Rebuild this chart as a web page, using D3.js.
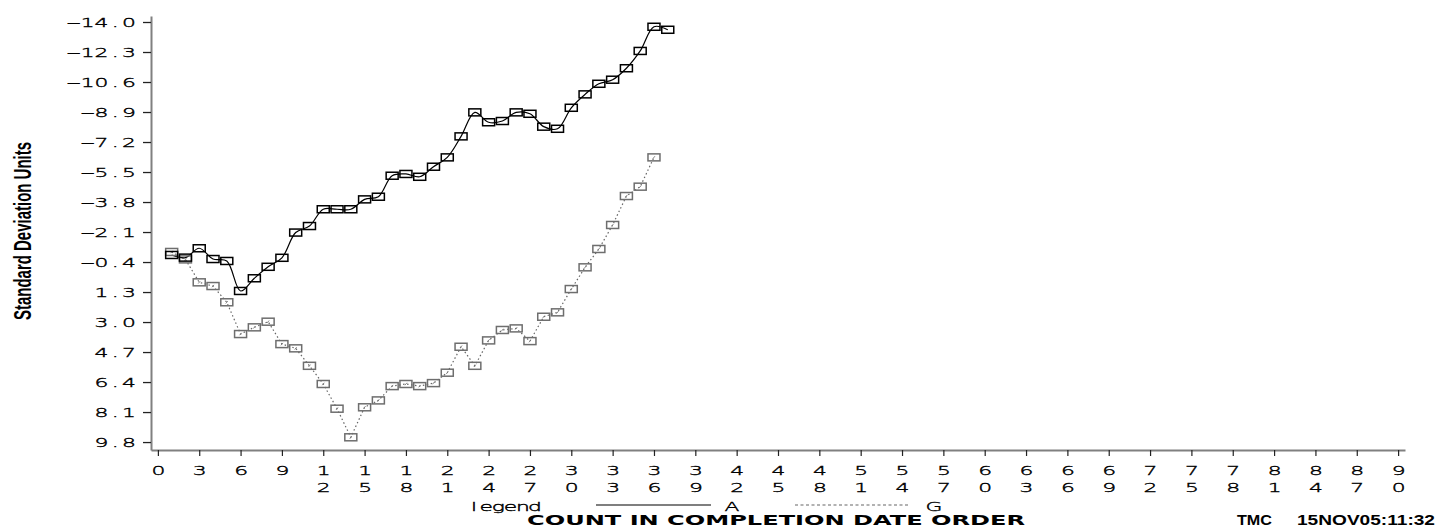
<!DOCTYPE html>
<html>
<head>
<meta charset="utf-8">
<script src="https://cdn.jsdelivr.net/npm/d3@7"></script>
<style>
body { margin: 0; background: #fff; }
svg { display: block; }
</style>
</head>
<body>
<script>
// count in completion date order
var counts = [1, 2, 3, 4, 5, 6, 7, 8, 9, 10, 11, 12, 13, 14, 15, 16, 17, 18, 19, 20,
  21, 22, 23, 24, 25, 26, 27, 28, 29, 30, 31, 32, 33, 34, 35, 36, 37];

// series A (solid line)
var seriesA = [-0.80, -0.65, -1.18, -0.57, -0.46, 1.24, 0.52, -0.13, -0.64, -2.07,
  -2.44, -3.39, -3.39, -3.39, -3.95, -4.10, -5.29, -5.39, -5.23, -5.80,
  -6.33, -7.52, -8.88, -8.32, -8.39, -8.88, -8.80, -8.07, -7.95, -9.14,
  -9.90, -10.50, -10.73, -11.38, -12.36, -13.73, -13.56];

// series G (dotted line)
var seriesG = [-0.97, -0.55, 0.75, 0.96, 1.88, 3.68, 3.30, 2.98, 4.25, 4.49,
  5.48, 6.51, 7.91, 9.53, 7.83, 7.44, 6.63, 6.51, 6.63, 6.46,
  5.87, 4.40, 5.48, 4.04, 3.45, 3.36, 4.08, 2.70, 2.45, 1.13,
  -0.10, -1.14, -2.50, -4.14, -4.67, -6.33];

var yTickValues = [-14.0, -12.3, -10.6, -8.9, -7.2, -5.5, -3.8, -2.1, -0.4, 1.3, 3.0, 4.7, 6.4, 8.1, 9.8];
var xTickValues = [0, 3, 6, 9, 12, 15, 18, 21, 24, 27, 30, 33, 36, 39, 42, 45, 48, 51, 54, 57,
  60, 63, 66, 69, 72, 75, 78, 81, 84, 87, 90];
var legendLabels = ['A', 'G'];

var w = 1438;
var h = 527;
var thinFont = '"DejaVu Sans", sans-serif';
var sx = 1.9;   // horizontal stretch of the thin axis font

var svg = d3.select('body')
  .append('svg')
  .attr('width', w)
  .attr('height', h);

// writes a string one character per fixed slot, like a plotter font
function slotText(t, str, firstCenter, slot, y){
  t.text(null)
    .attr('x', null)
    .attr('y', null)
    .attr('dy', null)
    .attr('text-anchor', 'middle')
    .attr('transform', 'scale(' + sx + ',1)')
    .attr('fill', '#000')
    .attr('stroke', '#000')
    .attr('stroke-width', 0.35)
    .style('font-family', thinFont)
    .style('font-weight', 200)
    .style('font-size', '11.5px');
  str.split('').forEach(function(c, k){
    t.append('tspan')
      .attr('x', (firstCenter + k * slot) / sx)
      .attr('y', y)
      .text(c);
  });
}

var xScale = d3.scaleLinear()
  .domain([-0.5, 90.5])
  .range([151, 1405]);

var yScale = d3.scaleLinear()
  .domain([-14.34, 10.25])
  .range([16, 450]);

// y axis, minus drawn as a long plotter dash
var yFormat = function(d){ return d3.format('.1f')(d).replace('\u2212', '\u2012'); };

var yAxis = d3.axisLeft(yScale)
  .tickValues(yTickValues)
  .tickSize(8)
  .tickSizeOuter(0)
  .tickFormat(yFormat);

var gy = svg.append('g')
  .attr('transform', 'translate(151,0)')
  .call(yAxis);

gy.select('.domain').attr('stroke', '#808080').attr('stroke-width', 2);
gy.selectAll('.tick line').attr('stroke', '#222').attr('stroke-width', 1.3);
gy.selectAll('.tick text').each(function(d){
  var s = yFormat(d);
  var slot = 13.8;
  slotText(d3.select(this), s, -22 - (s.length - 1) * slot, slot, 4);
});

// x axis
var xAxis = d3.axisBottom(xScale)
  .tickValues(xTickValues)
  .tickSize(6)
  .tickSizeOuter(0);

var gx = svg.append('g')
  .attr('transform', 'translate(0,450)')
  .call(xAxis);

gx.select('.domain').attr('stroke', '#808080').attr('stroke-width', 2);
gx.selectAll('.tick line').attr('stroke', '#222').attr('stroke-width', 1.2);
gx.selectAll('.tick text').each(function(d){
  var t = d3.select(this);
  slotText(t, '', 0, 0, 0);
  String(d).split('').forEach(function(c, i){
    t.append('tspan')
      .attr('x', 0)
      .attr('y', 25.5 + i * 16.3)
      .text(c);
  });
});

// lines
var lineA = d3.line()
  .x(function(d, i){ return xScale(counts[i]); })
  .y(function(d){ return yScale(d); })
  .curve(d3.curveCatmullRom.alpha(0.5));

var lineG = d3.line()
  .x(function(d, i){ return xScale(counts[i]); })
  .y(function(d){ return yScale(d); });

svg.append('path')
  .datum(seriesG)
  .attr('d', lineG)
  .attr('fill', 'none')
  .attr('stroke', '#666')
  .attr('stroke-width', 1.2)
  .attr('stroke-dasharray', '1.5,2.5');

svg.append('path')
  .datum(seriesA)
  .attr('d', lineA)
  .attr('fill', 'none')
  .attr('stroke', '#000')
  .attr('stroke-width', 1.2);

// markers
var bw = 12, bh = 7;

var gMarks = svg.append('g').selectAll('g')
  .data(seriesG)
  .enter()
  .append('g')
  .attr('transform', function(d, i){
    return 'translate(' + xScale(counts[i]) + ',' + yScale(d) + ')';
  });

gMarks.append('rect')
  .attr('x', -bw / 2)
  .attr('y', -bh / 2)
  .attr('width', bw)
  .attr('height', bh)
  .attr('fill', 'none')
  .attr('stroke', '#6e6e6e')
  .attr('stroke-width', 1.5);

gMarks.append('line')
  .attr('x1', -1).attr('y1', 1.2)
  .attr('x2', 1).attr('y2', -1.2)
  .attr('stroke', '#777')
  .attr('stroke-width', 0.9);

svg.append('g').selectAll('rect')
  .data(seriesA)
  .enter()
  .append('rect')
  .attr('x', function(d, i){ return xScale(counts[i]) - bw / 2; })
  .attr('y', function(d){ return yScale(d) - bh / 2; })
  .attr('width', bw)
  .attr('height', bh)
  .attr('fill', 'none')
  .attr('stroke', '#000')
  .attr('stroke-width', 1.5);

// legend
var legend = svg.append('g');

slotText(legend.append('text'), 'legend', 474, 12.2, 511);

legend.append('line')
  .attr('x1', 596).attr('x2', 711)
  .attr('y1', 505).attr('y2', 505)
  .attr('stroke', '#000')
  .attr('stroke-width', 1.2);

legend.append('line')
  .attr('x1', 795).attr('x2', 910)
  .attr('y1', 505).attr('y2', 505)
  .attr('stroke', '#666')
  .attr('stroke-width', 1.2)
  .attr('stroke-dasharray', '3,2.5');

legend.selectAll('.lab')
  .data(legendLabels)
  .enter()
  .append('text')
  .attr('class', 'lab')
  .each(function(d, i){
    slotText(d3.select(this), d, 732 + i * 202, 12, 511);
  });

// titles
svg.append('text')
  .attr('x', 527)
  .attr('y', 525)
  .attr('textLength', 498)
  .attr('lengthAdjust', 'spacingAndGlyphs')
  .style('font-family', '"DejaVu Sans", sans-serif')
  .style('font-weight', 'bold')
  .style('font-size', '14px')
  .text('COUNT IN COMPLETION DATE ORDER');

svg.append('text')
  .attr('x', 1237)
  .attr('y', 524.5)
  .attr('textLength', 35)
  .attr('lengthAdjust', 'spacingAndGlyphs')
  .style('font-family', '"Liberation Sans", Arial, sans-serif')
  .style('font-weight', 'bold')
  .style('font-size', '14.5px')
  .text('TMC');

svg.append('text')
  .attr('x', 1297)
  .attr('y', 524.5)
  .attr('textLength', 138)
  .attr('lengthAdjust', 'spacingAndGlyphs')
  .style('font-family', '"Liberation Sans", Arial, sans-serif')
  .style('font-weight', 'bold')
  .style('font-size', '14.5px')
  .text('15NOV05:11:32');

svg.append('text')
  .attr('transform', 'translate(31,320) rotate(-90)')
  .attr('textLength', 178)
  .attr('lengthAdjust', 'spacingAndGlyphs')
  .style('font-family', '"Liberation Sans Narrow", "Liberation Sans", sans-serif')
  .style('font-weight', 'bold')
  .style('font-size', '24px')
  .text('Standard Deviation Units');
</script>
</body>
</html>
